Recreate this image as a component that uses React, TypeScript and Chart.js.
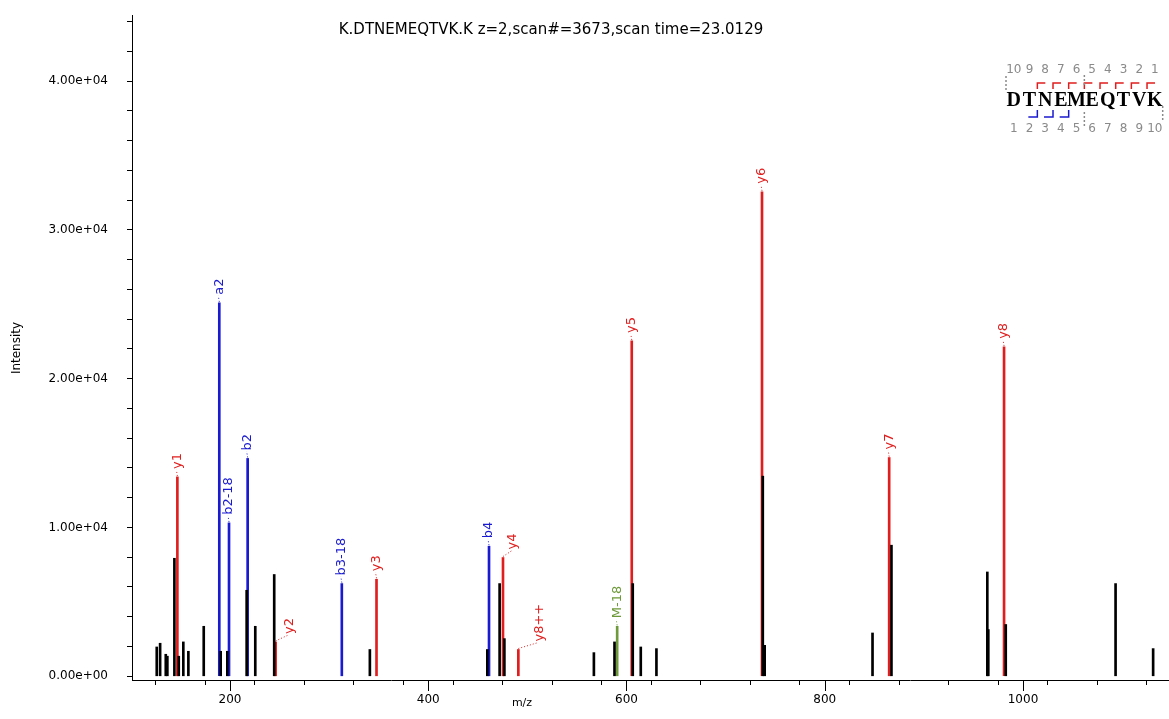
import React, { useEffect, useRef } from "react";
import { Chart, registerables } from "chart.js";

Chart.register(...registerables);

// Spectrum header
const titleText = "K.DTNEMEQTVK.K z=2,scan#=3673,scan time=23.0129";
const peptide = "DTNEMEQTVK";

// Unassigned peaks (m/z, intensity)
const otherMz = [126.1, 129.5, 135.2, 136.8, 143.9, 148.3, 152.9, 158.0, 173.5, 190.6, 197.3, 216.8, 225.5, 244.6, 341.1, 459.6, 472.0, 476.8, 567.1, 587.9, 606.3, 614.4, 630.2, 737.5, 739.4, 848.2, 867.3, 964.0, 965.0, 982.6, 1093.4, 1131.3];
const otherInt = [1970, 2220, 1480, 1350, 7930, 1350, 2310, 1680, 3360, 1680, 1680, 5780, 3360, 6840, 1800, 1800, 6230, 2530, 1590, 2310, 6230, 1970, 1860, 13450, 2080, 2910, 8810, 7010, 3140, 3480, 6230, 1860];

// Assigned fragment ions
const ionNames = ["y1", "a2", "b2-18", "b2", "y2", "b3-18", "y3", "b4", "y4", "y8++", "M-18", "y5", "y6", "y7", "y8"];
const ionMz = [146.9, 189.2, 199.0, 217.8, 246.0, 312.8, 347.8, 461.3, 475.4, 490.9, 590.6, 605.3, 736.7, 865.0, 980.9];
const ionInt = [13400, 25100, 10310, 14640, 2310, 6230, 6520, 8740, 7980, 1800, 3360, 22540, 32560, 14700, 22140];

// Sequence coverage marks: y ions above the sequence, b ions below
const yCoverage = [1, 2, 3, 4, 5, 6, 7, 8];
const bCoverage = [2, 3, 4];

// Axis ticks: labelled majors and the unlabelled minor spacing
const yMajorTicks = [0, 10000, 20000, 30000, 40000];
const yMinorStep = 2000;
const xMajorTicks = [200, 400, 600, 800, 1000];
const xMinorStep = 50;

const RED = "#e01e1e";
const BLUE = "#1a1ad0";
const GREEN = "#6e9a3c";
const GREY = "#8a8a8a";

const ionColor = (name: string) =>
  name.startsWith("y") ? RED : name.startsWith("M") ? GREEN : BLUE;

// Horizontal shift of a few annotation labels so they clear neighbouring peaks
const labelShift: Record<string, number> = { y2: 14, y4: 10, "y8++": 21 };

const sci = (v: number) => {
  if (v === 0) return "0.00e+00";
  const e = Math.floor(Math.log10(Math.abs(v)));
  const m = v / Math.pow(10, e);
  return `${m.toFixed(2)}e+${String(e).padStart(2, "0")}`;
};

const FONT = '"DejaVu Sans", "Liberation Sans", sans-serif';

const pts = (xs: number[], ys: number[]) => xs.map((x, i) => ({ x, y: ys[i] }));

const isMajor = (v: number, list: number[]) => list.some((m) => Math.abs(m - v) < 1e-6);

// tick values on multiples of `step` inside the scale range
const stepTicks = (scale: any, step: number) => {
  const out: { value: number }[] = [];
  const start = Math.ceil(scale.min / step) * step;
  for (let v = start; v <= scale.max + 1e-9; v += step) out.push({ value: v });
  scale.ticks = out;
};

const annotate = {
  id: "annotate",
  afterDraw(chart: any) {
    const ctx = chart.ctx as CanvasRenderingContext2D;
    const xs = chart.scales.x;
    const ys = chart.scales.y;
    const area = chart.chartArea;
    ctx.save();

    // longer major ticks on the m/z axis
    ctx.strokeStyle = "#000";
    ctx.lineWidth = 1;
    xMajorTicks.forEach((v) => {
      const px = Math.round(xs.getPixelForValue(v)) + 0.5;
      ctx.beginPath();
      ctx.moveTo(px, area.bottom);
      ctx.lineTo(px, area.bottom + 11);
      ctx.stroke();
    });

    // title
    ctx.fillStyle = "#000";
    ctx.font = `15px ${FONT}`;
    ctx.textAlign = "center";
    ctx.textBaseline = "middle";
    ctx.fillText(titleText, 551, 30);

    // axis names
    ctx.font = `11px ${FONT}`;
    ctx.fillText("m/z", 522, 703);
    ctx.font = `12px ${FONT}`;
    ctx.save();
    ctx.translate(17, 348);
    ctx.rotate(-Math.PI / 2);
    ctx.fillText("Intensity", 0, 0);
    ctx.restore();

    // fragment labels
    ctx.font = `13px ${FONT}`;
    ionNames.forEach((name, i) => {
      const px = xs.getPixelForValue(ionMz[i]);
      const py = ys.getPixelForValue(ionInt[i]);
      const dx = labelShift[name] || 0;
      const col = ionColor(name);
      ctx.strokeStyle = col;
      ctx.fillStyle = col;
      ctx.lineWidth = 1;
      ctx.setLineDash([1, 2]);
      ctx.beginPath();
      ctx.moveTo(px, py - 1);
      ctx.lineTo(px + dx - 1, py - 7);
      ctx.stroke();
      ctx.setLineDash([]);
      ctx.save();
      ctx.translate(px + dx, py - 8);
      ctx.rotate(-Math.PI / 2);
      ctx.textAlign = "left";
      ctx.textBaseline = "middle";
      ctx.fillText(name, 0, 0);
      ctx.restore();
    });

    // sequence coverage diagram
    const x0 = 1006;
    const step = 15.67;
    const n = peptide.length;
    ctx.textAlign = "center";
    ctx.textBaseline = "middle";
    ctx.fillStyle = "#000";
    ctx.font = `bold 20px "Liberation Serif", "DejaVu Serif", serif`;
    for (let i = 0; i < n; i++) ctx.fillText(peptide[i], x0 + step * (i + 0.5), 101);
    ctx.fillStyle = GREY;
    ctx.font = `12px ${FONT}`;
    for (let i = 0; i < n; i++) {
      ctx.fillText(String(n - i), x0 + step * (i + 0.5), 70);
      ctx.fillText(String(i + 1), x0 + step * (i + 0.5), 129);
    }
    ctx.lineWidth = 1.5;
    ctx.strokeStyle = RED;
    yCoverage.forEach((k) => {
      const bx = x0 + step * (n - k);
      ctx.beginPath();
      ctx.moveTo(bx, 89);
      ctx.lineTo(bx, 83);
      ctx.lineTo(bx + 8, 83);
      ctx.stroke();
    });
    ctx.strokeStyle = BLUE;
    bCoverage.forEach((k) => {
      const bx = x0 + step * k;
      ctx.beginPath();
      ctx.moveTo(bx - 9, 117);
      ctx.lineTo(bx, 117);
      ctx.lineTo(bx, 110);
      ctx.stroke();
    });
    ctx.strokeStyle = GREY;
    ctx.lineWidth = 1.5;
    ctx.setLineDash([2, 2]);
    const seg = (x: number, a: number, b: number) => {
      ctx.beginPath();
      ctx.moveTo(x, a);
      ctx.lineTo(x, b);
      ctx.stroke();
    };
    seg(x0, 76, 90);
    seg(x0 + step * 5, 75, 85);
    seg(x0 + step * 5, 112, 128);
    seg(x0 + step * n, 106, 120);
    ctx.setLineDash([]);

    ctx.restore();
  },
};

export default function App() {
  const ref = useRef<HTMLCanvasElement | null>(null);

  useEffect(() => {
    document.body.style.margin = "0";
    const canvas = ref.current;
    if (!canvas) return;
    const chart = new Chart(canvas, {
      type: "bar",
      data: {
        datasets: [
          {
            data: pts(otherMz, otherInt),
            backgroundColor: "#000",
            barThickness: 2,
            grouped: false,
            order: 0,
          } as any,
          {
            data: pts(ionMz, ionInt),
            backgroundColor: ionNames.map(ionColor),
            barThickness: 2,
            grouped: false,
            order: 1,
          } as any,
        ],
      },
      options: {
        responsive: false,
        animation: false,
        layout: { padding: { top: 15, right: 0, left: 0, bottom: 0 } },
        plugins: { legend: { display: false }, tooltip: { enabled: false } },
        scales: {
          x: {
            type: "linear",
            min: 101.13,
            max: 1147.3,
            offset: false,
            grid: { drawOnChartArea: false, tickLength: 5, color: "#000" },
            border: { color: "#000", width: 1 },
            afterBuildTicks: (s: any) => stepTicks(s, xMinorStep),
            ticks: {
              autoSkip: false,
              maxRotation: 0,
              padding: 8,
              color: "#000",
              font: { family: FONT, size: 12 },
              callback: (v: any) => (isMajor(Number(v), xMajorTicks) ? String(Math.round(Number(v))) : ""),
            },
            afterFit: (s: any) => {
              s.height = 39;
              s.paddingLeft = 0;
              s.paddingRight = 0;
            },
          },
          y: {
            type: "linear",
            min: -250,
            max: 44440,
            grid: { drawOnChartArea: false, tickLength: 5, color: "#000" },
            border: { color: "#000", width: 1 },
            afterBuildTicks: (s: any) => stepTicks(s, yMinorStep),
            ticks: {
              autoSkip: false,
              padding: 19,
              color: "#000",
              font: { family: FONT, size: 12 },
              callback: (v: any) => (isMajor(Number(v), yMajorTicks) ? sci(Math.round(Number(v))) : ""),
            },
            afterFit: (s: any) => {
              s.width = 132;
              s.paddingTop = 0;
              s.paddingBottom = 0;
            },
          },
        },
      },
      plugins: [annotate],
    });
    return () => chart.destroy();
  }, []);

  return (
    <div style={{ width: 1169, height: 719, background: "#fff" }}>
      <canvas ref={ref} width={1169} height={719} style={{ display: "block" }} />
    </div>
  );
}
